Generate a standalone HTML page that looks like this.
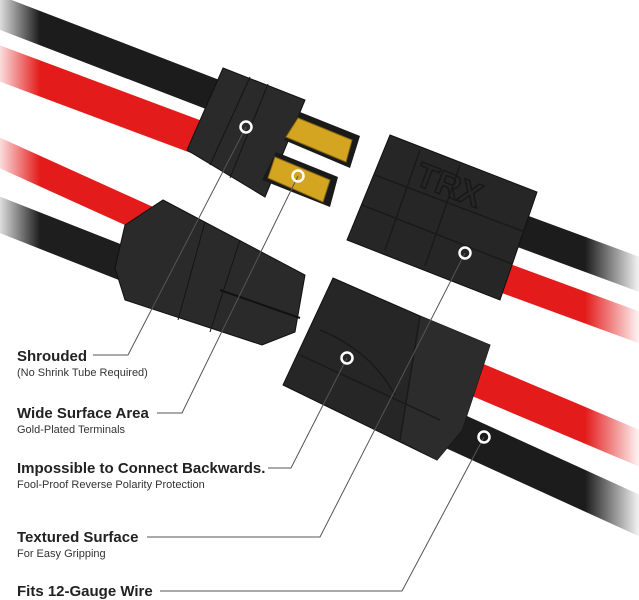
<!DOCTYPE html>
<html><head><meta charset="utf-8"><style>
html,body{margin:0;padding:0;background:#fff;}
svg{display:block}
.b{font-family:"Liberation Sans",sans-serif;font-weight:bold;font-size:15px;fill:#222}
.s{font-family:"Liberation Sans",sans-serif;font-size:11px;fill:#333}
</style></head><body>
<svg width="639" height="600" viewBox="0 0 639 600" xmlns="http://www.w3.org/2000/svg">
<defs>
<linearGradient id="fr" x1="0" x2="1"><stop offset="0" stop-color="#fff" stop-opacity="0"/><stop offset="1" stop-color="#fff" stop-opacity="0.95"/></linearGradient>
<linearGradient id="fl" x1="0" x2="1"><stop offset="0" stop-color="#fff" stop-opacity="0.85"/><stop offset="1" stop-color="#fff" stop-opacity="0"/></linearGradient>
</defs>
<!-- top-left wires -->
<line x1="-20" y1="5" x2="240" y2="105" stroke="#1c1c1c" stroke-width="32"/>
<line x1="-20" y1="56" x2="210" y2="142" stroke="#e41b1b" stroke-width="34"/>
<!-- lower-left wires -->
<line x1="-20" y1="144" x2="170" y2="230" stroke="#e41b1b" stroke-width="28"/>
<line x1="-20" y1="207" x2="150" y2="274" stroke="#1e1e1e" stroke-width="34"/>
<rect x="0" y="0" width="40" height="300" fill="url(#fl)"/>
<!-- right upper wires -->
<line x1="500" y1="223" x2="660" y2="282" stroke="#1c1c1c" stroke-width="33"/>
<line x1="480" y1="269" x2="660" y2="335" stroke="#e41b1b" stroke-width="30"/>
<!-- right lower wires -->
<line x1="440" y1="364" x2="660" y2="457" stroke="#e41b1b" stroke-width="34"/>
<line x1="430" y1="420" x2="660" y2="525" stroke="#1c1c1c" stroke-width="38"/>
<rect x="585" y="180" width="54" height="380" fill="url(#fr)"/>
<!-- top plug -->
<polygon points="223,68 305,100 265,197 187,150" fill="#2a2a2a" stroke="#111"/>
<line x1="268" y1="84" x2="230" y2="178" stroke="#151515"/>
<line x1="250" y1="77" x2="210" y2="165" stroke="#151515"/>
<polygon points="300,112 360,136 350,168 284,140" fill="#1a1a1a"/>
<polygon points="298,118 352,140 346,162 286,137" fill="#d4a521" stroke="#8a6a10"/>
<polygon points="276,152 338,177 330,207 262,180" fill="#1a1a1a"/>
<polygon points="275,157 330,180 323,202 268,178" fill="#d4a521" stroke="#8a6a10"/>
<!-- left lower plug -->
<polygon points="163,200 305,275 295,332 262,345 125,300 115,268 125,225" fill="#2a2a2a" stroke="#111"/>
<line x1="205" y1="222" x2="178" y2="320" stroke="#151515"/>
<line x1="240" y1="240" x2="210" y2="332" stroke="#151515"/>
<line x1="220" y1="290" x2="300" y2="318" stroke="#111" stroke-width="2"/>
<!-- right upper socket -->
<polygon points="390,135 537,192 500,300 347,240" fill="#262626" stroke="#111"/>
<g stroke="#1a1a1a" stroke-width="1.5" fill="none">
<line x1="375" y1="175" x2="525" y2="232"/>
<line x1="362" y1="205" x2="512" y2="264"/>
<line x1="420" y1="150" x2="385" y2="250"/>
<line x1="460" y1="165" x2="425" y2="266"/>
<text x="410" y="198" transform="rotate(21 450 200)" font-family="Liberation Sans" font-weight="bold" font-size="34" stroke="#181818" stroke-width="1.5">TRX</text>
</g>
<!-- right lower socket -->
<polygon points="333,278 420,316 490,345 462,430 437,460 283,385" fill="#262626" stroke="#111"/>
<polygon points="420,316 490,345 462,430 437,460 400,440" fill="#2c2c2c"/>
<g stroke="#1a1a1a" stroke-width="1.5" fill="none">
<line x1="420" y1="316" x2="400" y2="440"/>
<line x1="300" y1="355" x2="440" y2="420"/>
<path d="M320 330 Q370 350 395 395"/>
</g>
<!-- leader lines -->
<g fill="none" stroke="#555" stroke-width="1">
<polyline points="93,355 128,355 246,127"/>
<polyline points="157,413 182,413 298,176"/>
<polyline points="268,468 291,468 347,358"/>
<polyline points="147,537 320,537 465,253"/>
<polyline points="160,591 402,591 484,437"/>
</g>
<g fill="none" stroke="#fff" stroke-width="2.5">
<circle cx="246" cy="127" r="5.5"/>
<circle cx="298" cy="176" r="5.5"/>
<circle cx="347" cy="358" r="5.5"/>
<circle cx="465" cy="253" r="5.5"/>
<circle cx="484" cy="437" r="5.5"/>
</g>
<text class="b" x="17" y="361">Shrouded</text>
<text class="s" x="17" y="376">(No Shrink Tube Required)</text>
<text class="b" x="17" y="418">Wide Surface Area</text>
<text class="s" x="17" y="433">Gold-Plated Terminals</text>
<text class="b" x="17" y="473">Impossible to Connect Backwards.</text>
<text class="s" x="17" y="488">Fool-Proof Reverse Polarity Protection</text>
<text class="b" x="17" y="542">Textured Surface</text>
<text class="s" x="17" y="557">For Easy Gripping</text>
<text class="b" x="17" y="596">Fits 12-Gauge Wire</text>
</svg>
</body></html>
